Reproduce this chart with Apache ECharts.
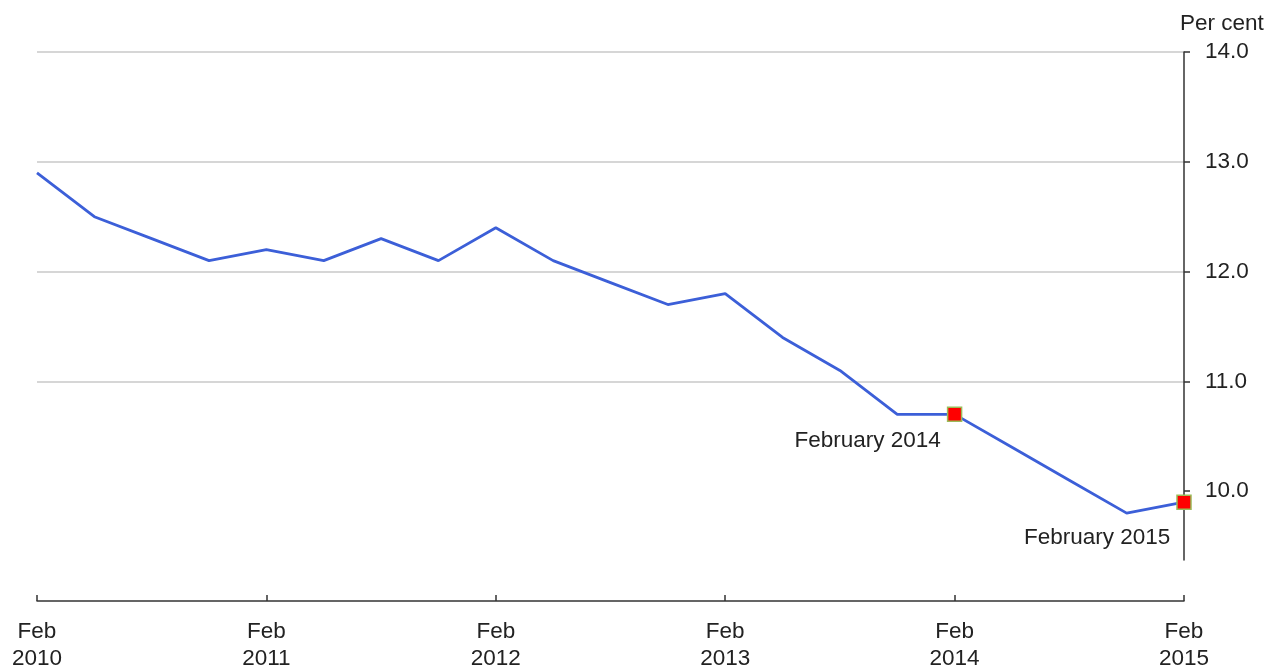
<!DOCTYPE html>
<html>
<head>
<meta charset="utf-8">
<script src="https://cdn.jsdelivr.net/npm/echarts@6/dist/echarts.min.js"></script>
<style>
  html, body { margin: 0; padding: 0; background: #fff; }
  #chart { width: 1271px; height: 667px; }
</style>
</head>
<body>
<div id="chart"></div>
<script>
// quarterly observations, Feb 2010 - Feb 2015
const quarters = [
  'Feb\n2010', 'May 2010', 'Aug 2010', 'Nov 2010',
  'Feb\n2011', 'May 2011', 'Aug 2011', 'Nov 2011',
  'Feb\n2012', 'May 2012', 'Aug 2012', 'Nov 2012',
  'Feb\n2013', 'May 2013', 'Aug 2013', 'Nov 2013',
  'Feb\n2014', 'May 2014', 'Aug 2014', 'Nov 2014',
  'Feb\n2015'
]
const rates = [
  12.9, 12.5, 12.3, 12.1,
  12.2, 12.1, 12.3, 12.1,
  12.4, 12.1, 11.9, 11.7,
  11.8, 11.4, 11.1, 10.7,
  10.7, 10.4, 10.1, 9.8,
  9.9
]
const yTicks = [10, 11, 12, 13, 14]
const highlights = { 16: 'February 2014', 20: 'February 2015' }
const highlightOffsets = { 16: [-6, 26], 20: [-6, 36] }

const font = 'Liberation Sans, Arial, sans-serif'
const fontSize = 22.5

const seriesData = rates.map((v, i) => {
  if (highlights[i] === undefined) return v
  return {
    value: v,
    symbol: 'rect',
    symbolSize: 14,
    itemStyle: { color: '#ff0000', borderColor: '#9bbb59', borderWidth: 1.5 },
    label: {
      show: true,
      position: 'left',
      distance: 0,
      offset: highlightOffsets[i],
      formatter: highlights[i],
      color: '#222',
      fontSize: fontSize,
      fontFamily: font
    }
  }
})

const chart = echarts.init(document.getElementById('chart'))

var option = {
  animation: false,
  grid: [
    { left: 37, right: 87, top: 52, bottom: 66, containLabel: false, outerBoundsMode: 'none' },
    { left: 37, right: 87, top: 52, bottom: 107, containLabel: false, outerBoundsMode: 'none' }
  ],
  xAxis: [
    {
      type: 'category',
      gridIndex: 0,
      data: quarters,
      boundaryGap: false,
      axisLine: { lineStyle: { color: '#333', width: 1.5 } },
      axisTick: { inside: true, length: 6, interval: 3, lineStyle: { color: '#333', width: 1.5 } },
      axisLabel: {
        interval: 3,
        margin: 17,
        color: '#222',
        fontSize: fontSize,
        lineHeight: 27,
        fontFamily: font
      },
      splitLine: { show: false }
    },
    {
      type: 'category',
      gridIndex: 1,
      data: quarters,
      show: false
    }
  ],
  yAxis: [
    {
      type: 'value',
      gridIndex: 0,
      position: 'right',
      min: 9,
      max: 14,
      interval: 1,
      axisLine: { show: false },
      axisTick: {
        show: true,
        length: 6,
        customValues: yTicks,
        lineStyle: { color: '#333', width: 1.5 }
      },
      axisLabel: {
        customValues: yTicks,
        margin: 21,
        color: '#222',
        fontSize: fontSize,
        fontFamily: font,
        formatter: v => v.toFixed(1)
      },
      splitLine: { show: true, showMinLine: false, lineStyle: { color: '#c8c8c8', width: 1.5 } },
      name: 'Per cent',
      nameLocation: 'end',
      nameGap: 17,
      nameTextStyle: { color: '#222', fontSize: fontSize, fontFamily: font, align: 'left', padding: [0, 0, 0, -4] }
    },
    {
      type: 'value',
      gridIndex: 1,
      position: 'right',
      min: 0,
      max: 1,
      axisLine: { show: true, lineStyle: { color: '#333', width: 1.5 } },
      axisTick: { show: false },
      axisLabel: { show: false },
      splitLine: { show: false }
    }
  ],
  series: [
    {
      type: 'line',
      xAxisIndex: 0,
      yAxisIndex: 0,
      data: seriesData,
      symbol: 'none',
      lineStyle: { color: '#3c5fd8', width: 2.8 },
      z: 3
    }
  ]
}

option && chart.setOption(option)
</script>
</body>
</html>
